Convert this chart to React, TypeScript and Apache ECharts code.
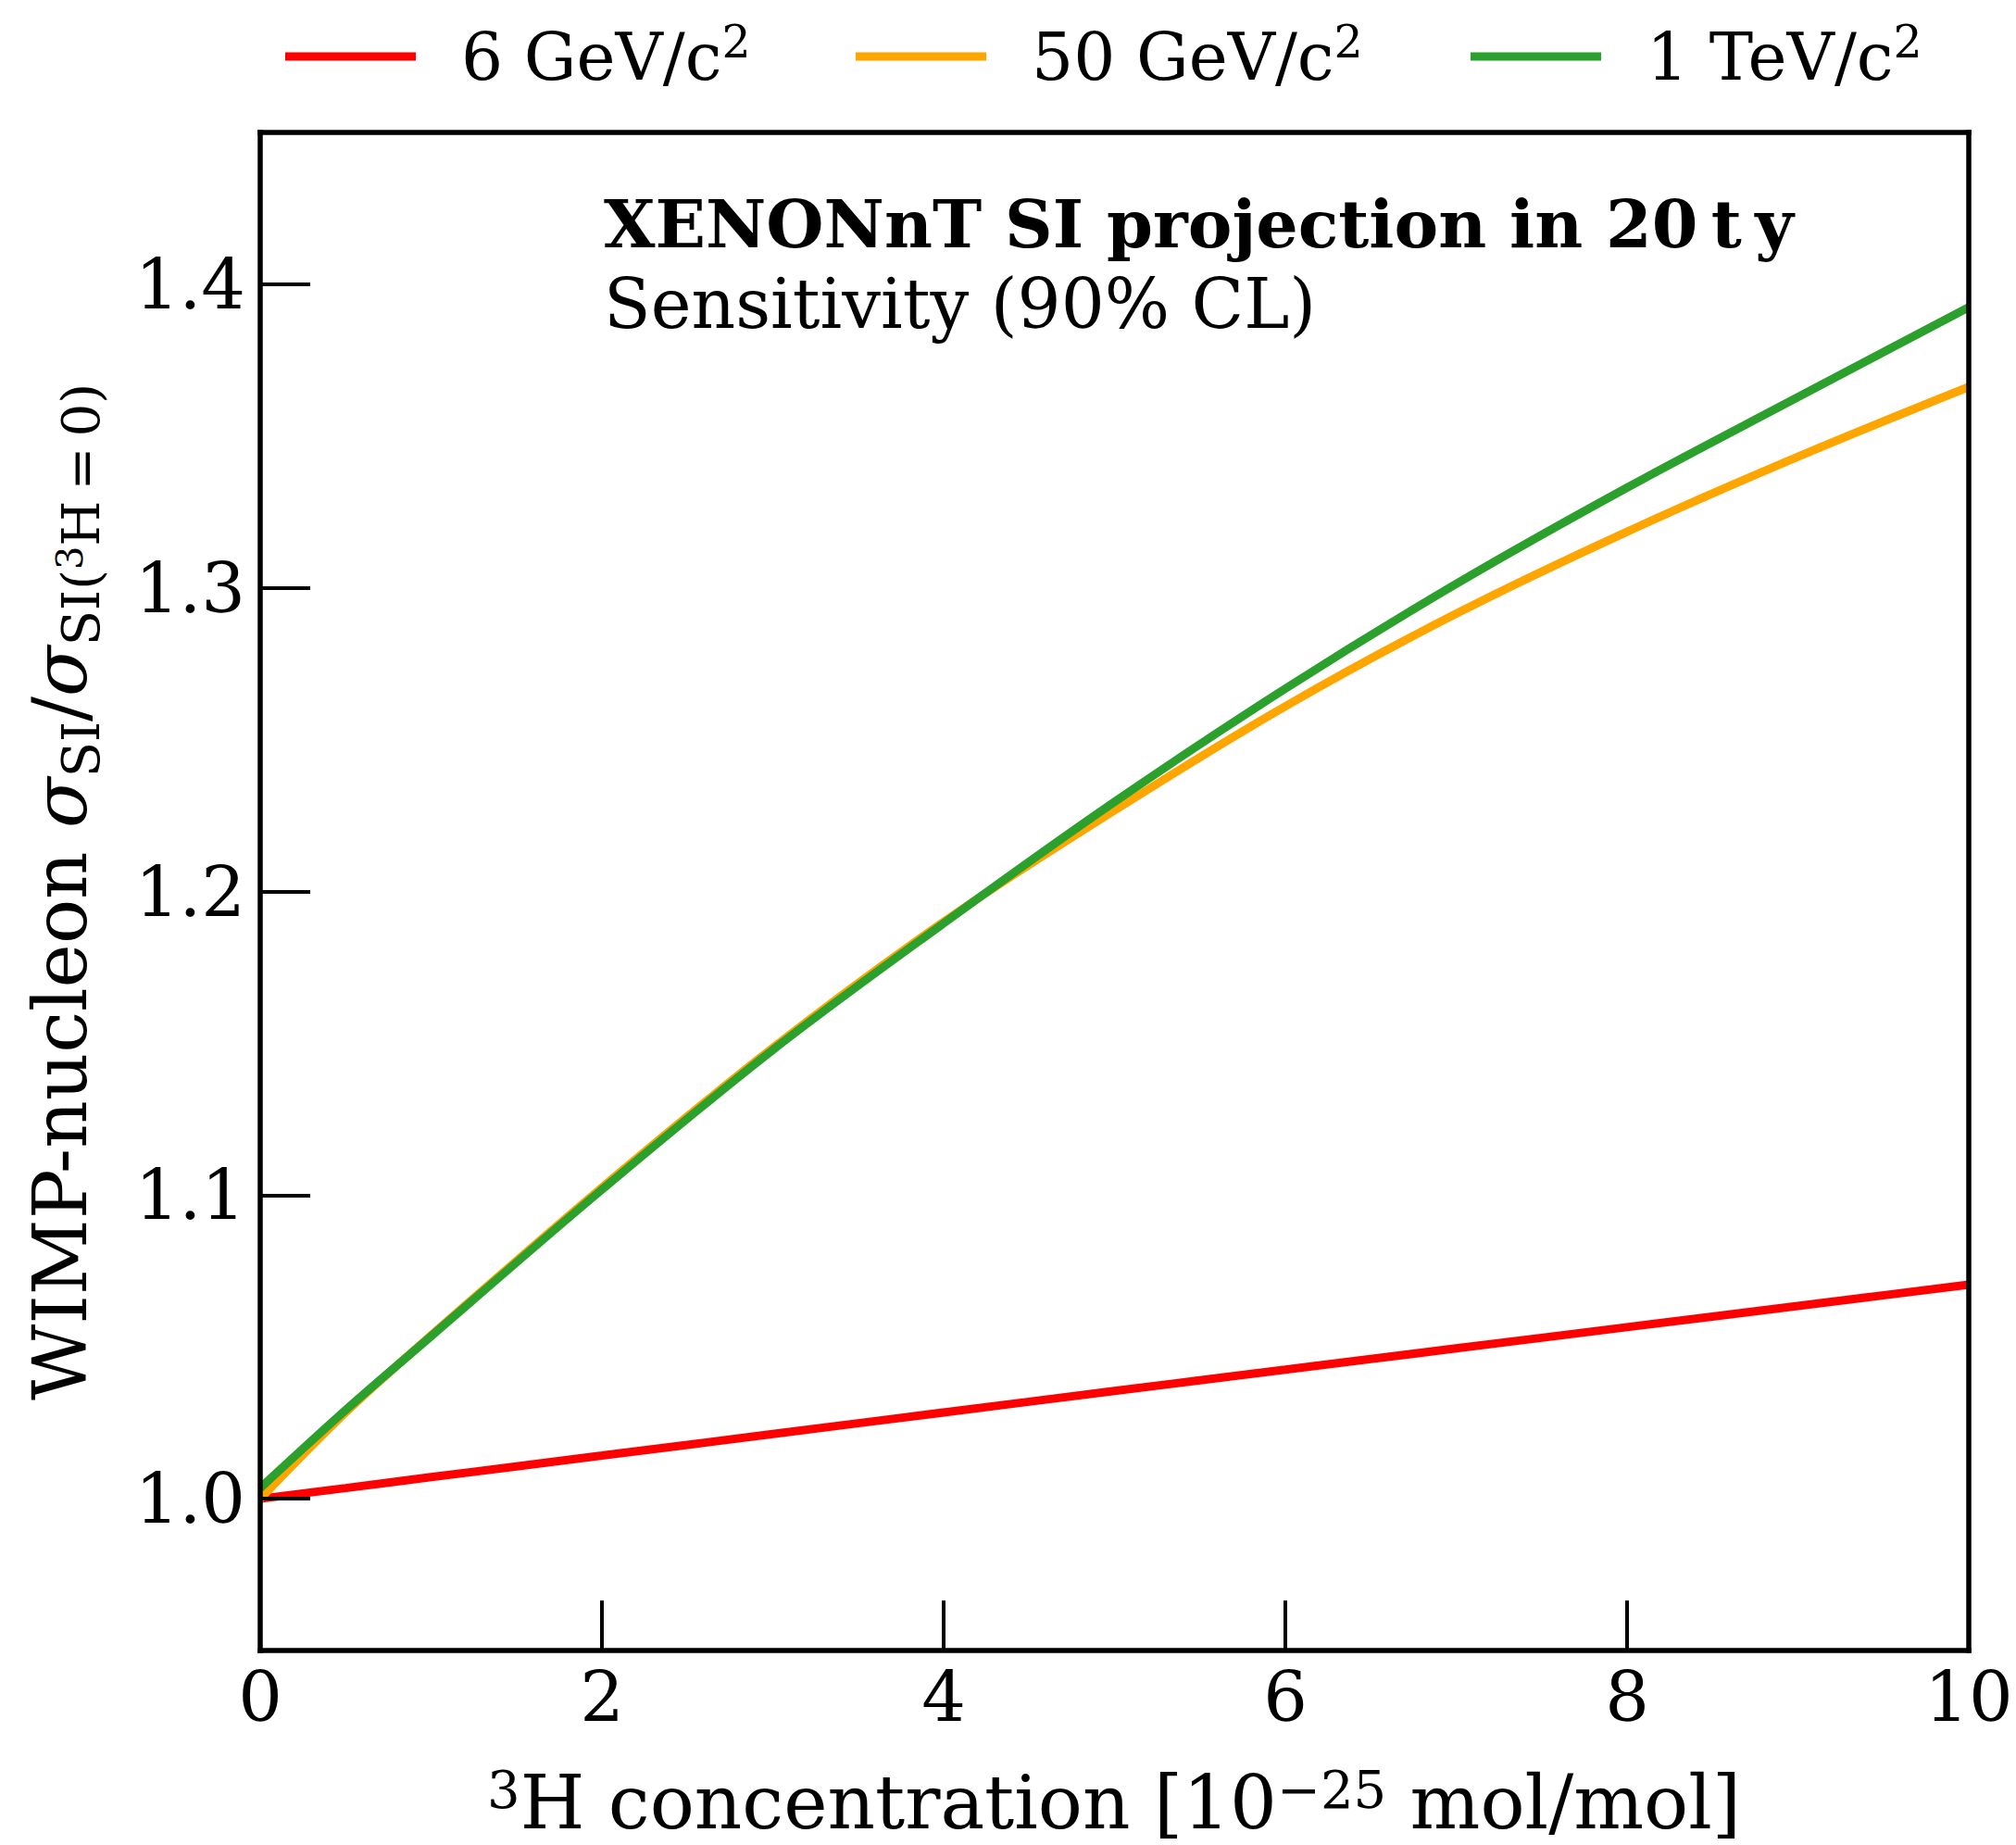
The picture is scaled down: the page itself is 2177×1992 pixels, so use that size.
import React, { useEffect, useRef } from "react";
import * as echarts from "echarts";

// Tritium concentration in units of 1e-25 mol/mol
const concentration = [0, 0.5, 1, 2, 3, 4, 5, 6, 7, 8, 9, 10];

// Sensitivity ratio sigma_SI / sigma_SI(3H = 0) per WIMP mass
const ratio6GeV = [1.0, 1.0035, 1.0071, 1.0142, 1.0213, 1.0284, 1.0355, 1.0425, 1.0495, 1.0565, 1.0635, 1.0705];
const ratio50GeV = [1.0, 1.0284, 1.0538, 1.1025, 1.1485, 1.19, 1.2267, 1.261, 1.2915, 1.3185, 1.3432, 1.3662];
const ratio1TeV = [1.0035, 1.0292, 1.0535, 1.1018, 1.1478, 1.1895, 1.2295, 1.2668, 1.3013, 1.333, 1.3628, 1.3924];

const seriesNames = ["6 GeV/c²", "50 GeV/c²", "1 TeV/c²"];
const legendStems = ["6 GeV/c", "50 GeV/c", "1 TeV/c"];
const seriesColors = ["#ff0000", "#ffa500", "#2ca02c"];

const xTicks = [0, 2, 4, 6, 8, 10];
const yTicks = [1.0, 1.1, 1.2, 1.3, 1.4];

const FONT = "DejaVu Serif";

const W = 2177;
const H = 1992;
const GRID = { left: 281, right: 51, top: 143, bottom: 210 };

function pairs(ys: number[]) {
  return concentration.map((x, i) => [x, ys[i]]);
}

export default function App() {
  const ref = useRef<HTMLDivElement>(null);

  useEffect(() => {
    document.body.style.margin = "0";
    if (!ref.current) return;
    const chart = echarts.init(ref.current, undefined, { renderer: "svg" });

    const frameLine = {
      show: true,
      onZero: false,
      lineStyle: { color: "#000", width: 5.5, cap: "square" as const },
    };
    const legendLefts = [303, 919, 1583];

    const legends = seriesNames.map((name, i) => ({
      data: [{ name, icon: "rect" }],
      left: legendLefts[i],
      top: 16,
      orient: "horizontal" as const,
      itemWidth: 141,
      itemHeight: 9,
      itemStyle: { borderWidth: 0 },
      formatter: () => `{n|${legendStems[i]}}{s|2}`,
      textStyle: {
        padding: [0, 0, 0, 44],
        rich: {
          n: { fontFamily: FONT, fontSize: 71, lineHeight: 80, color: "#000" },
          s: { fontFamily: FONT, fontSize: 49, lineHeight: 44, verticalAlign: "top", color: "#000" },
        },
      },
    }));

    const option: any = {
      animation: false,
      backgroundColor: "#fff",
      legend: legends,
      grid: { ...GRID, containLabel: false },
      xAxis: [
        {
          type: "value",
          min: 0,
          max: 10,
          interval: 2,
          position: "bottom",
          z: 5,
          axisLine: frameLine,
          axisTick: {
            show: true,
            inside: true,
            length: 54,
            customValues: xTicks,
            lineStyle: { color: "#000", width: 4 },
          },
          axisLabel: {
            show: true,
            margin: 12,
            color: "#000",
            fontFamily: FONT,
            fontSize: 75,
            customValues: xTicks,
            formatter: (v: number) => String(v),
          },
          splitLine: { show: false },
        },
        {
          type: "value",
          min: 0,
          max: 10,
          position: "top",
          z: 5,
          axisLine: frameLine,
          axisTick: { show: false },
          axisLabel: { show: false },
          splitLine: { show: false },
        },
      ],
      yAxis: [
        {
          type: "value",
          min: 0.95,
          max: 1.45,
          position: "left",
          z: 5,
          axisLine: frameLine,
          axisTick: {
            show: true,
            inside: true,
            length: 54,
            customValues: yTicks,
            lineStyle: { color: "#000", width: 4 },
          },
          axisLabel: {
            show: true,
            margin: 16,
            color: "#000",
            fontFamily: FONT,
            fontSize: 75,
            customValues: yTicks,
            formatter: (v: number) => v.toFixed(1),
          },
          splitLine: { show: false },
        },
        {
          type: "value",
          min: 0.95,
          max: 1.45,
          position: "right",
          z: 5,
          axisLine: frameLine,
          axisTick: { show: false },
          axisLabel: { show: false },
          splitLine: { show: false },
        },
      ],
      series: [ratio6GeV, ratio50GeV, ratio1TeV].map((ys, i) => ({
        type: "line",
        name: seriesNames[i],
        data: pairs(ys),
        smooth: 0.35,
        symbol: "none",
        showSymbol: false,
        clip: true,
        z: 2 + i,
        lineStyle: { color: seriesColors[i], width: 9 },
        itemStyle: { color: seriesColors[i] },
      })),
      graphic: [
        {
          type: "text",
          x: 652,
          y: 242,
          style: {
            text: "XENONnT SI projection in 20\u2009t\u2009y",
            fontFamily: FONT,
            fontWeight: "bold",
            fontSize: 71.5,
            fill: "#000",
            align: "left",
            verticalAlign: "middle",
          },
        },
        {
          type: "text",
          x: 652,
          y: 328,
          style: {
            text: "Sensitivity (90% CL)",
            fontFamily: FONT,
            fontSize: 74,
            fill: "#000",
            align: "left",
            verticalAlign: "middle",
          },
        },
        {
          type: "text",
          x: 1203,
          y: 1946,
          style: {
            text: "{s|3}{m|H concentration [10}{s|\u221225}{m| mol/mol]}",
            align: "center",
            verticalAlign: "middle",
            rich: {
              m: { fontFamily: FONT, fontSize: 80, lineHeight: 84, fill: "#000" },
              s: { fontFamily: FONT, fontSize: 56, lineHeight: 52, verticalAlign: "top", fill: "#000" },
            },
          },
        },
        {
          type: "text",
          x: 65,
          y: 963,
          rotation: Math.PI / 2,
          style: {
            text: "{m|WIMP-nucleon }{g|σ}{b|SI}{m|/}{g|σ}{b|SI(}{t|3}{b|H\u2009=\u20090)}",
            align: "center",
            verticalAlign: "middle",
            rich: {
              m: { fontFamily: FONT, fontSize: 80, lineHeight: 100, fill: "#000" },
              g: { fontFamily: FONT, fontStyle: "italic", fontSize: 80, lineHeight: 100, fill: "#000" },
              b: { fontFamily: FONT, fontSize: 56, lineHeight: 68, verticalAlign: "bottom", fill: "#000" },
              t: {
                fontFamily: FONT,
                fontSize: 40,
                verticalAlign: "bottom",
                padding: [0, 0, 20, 0],
                fill: "#000",
              },
            },
          },
        },
      ],
    };

    chart.setOption(option);
    return () => chart.dispose();
  }, []);

  return <div ref={ref} style={{ width: W, height: H }} />;
}
